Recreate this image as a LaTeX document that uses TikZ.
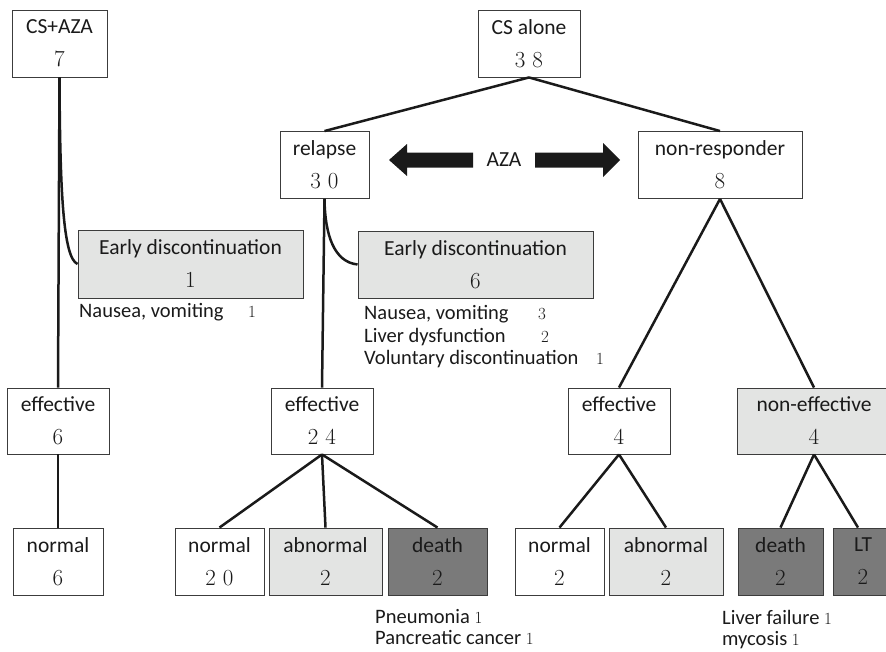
\documentclass[tikz,border=0pt]{standalone}
\usepackage{fontspec}
\newfontfamily\lblfont{Carlito}
\definecolor{lightfill}{HTML}{E3E4E3}
\definecolor{darkfill}{HTML}{7A7A7A}
\definecolor{ink}{HTML}{1A1A1A}
\tikzset{
  box/.style={draw=ink!85, line width=0.9pt, inner sep=0pt, minimum height=67pt,
    align=center, text=ink, font=\lblfont\fontsize{21.5}{33}\selectfont},
  light/.style={box, fill=lightfill},
  dark/.style={box, fill=darkfill},
  link/.style={line width=2.5pt, draw=ink},
  note/.style={anchor=base west, inner sep=0pt, text=ink, font=\lblfont\fontsize{20.5}{24}\selectfont},
  blockarrow/.style={fill=ink, draw=none},
}
\newcommand\num[1]{{\rmfamily\fontsize{23}{23}\selectfont #1}}
\newcommand\snum[1]{{\rmfamily\fontsize{17}{17}\selectfont #1}}
\begin{document}
\begin{tikzpicture}[x=1pt,y=-1pt]
\useasboundingbox (0,0) rectangle (886,651);
\begin{scope}
\clip (0,0) rectangle (886,651);

% top level
\node[box, minimum width=95pt]  (csaza)   at (59.5,43.5) {CS+AZA\\\num{7}};
\node[box, minimum width=102pt] (csalone) at (529,43.5)  {CS alone\\\num{3 8}};

% second level
\node[box, minimum width=89pt]  (relapse) at (324.5,165) {relapse\\\num{3 0}};
\node[box, minimum width=164pt] (nonresp) at (720,165)   {non-responder\\\num{8}};

% early discontinuation
\node[light, minimum width=225pt, minimum height=68pt] (ed1) at (190.5,264)   {Early discontinuation\\\num{1}};
\node[light, minimum width=235pt] (ed6) at (475.5,264.5) {Early discontinuation\\\num{6}};

% response level
\node[box, minimum width=102pt, minimum height=66pt] (eff6)   at (58,421)  {effective\\\num{6}};
\node[box, minimum width=102pt, minimum height=66pt] (eff24)  at (322,421) {effective\\\num{2 4}};
\node[box, minimum width=102pt, minimum height=66pt] (eff4)   at (619,421) {effective\\\num{4}};
\node[light, minimum width=154pt, minimum height=66pt] (noneff) at (814,421) {non-effective\\\num{4}};

% outcomes
\node[box, minimum width=90pt]   (normal6)  at (58,561.5)    {normal\\\num{6}};
\node[box, minimum width=89pt]   (normal20) at (219.5,561.5) {normal\\\num{2 0}};
\node[light, minimum width=113pt] (abnA)    at (325.5,561.5) {abnormal\\\num{2}};
\node[dark, minimum width=99pt]  (deathA)   at (437.5,561.5) {death\\\num{2}};
\node[box, minimum width=89pt]   (normal2)  at (559.5,561.5) {normal\\\num{2}};
\node[light, minimum width=114pt] (abnB)    at (666,561.5)   {abnormal\\\num{2}};
\node[dark, minimum width=85pt]  (deathB)   at (780.5,561.5) {death\\\num{2}};
\node[dark, minimum width=60pt]  (lt)       at (863,561.5)   {LT\\\num{2}};
\end{scope}

% AZA block arrows
\node[inner sep=0pt, text=ink, font=\lblfont\fontsize{21.5}{24}\selectfont] (aza) at (504,160) {AZA};
\fill[blockarrow] (473,152.5) -- (407,152.5) -- (407,144) -- (389,160) -- (407,176)
  -- (407,167.5) -- (473,167.5) -- cycle;
\fill[blockarrow] (535,152.5) -- (603,152.5) -- (603,143) -- (620,160) -- (603,177)
  -- (603,167.5) -- (535,167.5) -- cycle;

% connectors
\draw[link] (csalone.south) -- (relapse.north);
\draw[link] (csalone.south) -- (nonresp.north);
\draw[link] (csaza.south) -- (eff6.north);
\draw[link] (csaza.south) .. controls (60,190) and (63,258) .. (ed1.west);
\draw[link] (relapse.south) -- (eff24.north);
\draw[link] (relapse.south) .. controls (325,235) and (334,262) .. (ed6.west);
\draw[link] (nonresp.south) -- (eff4.north);
\draw[link] (nonresp.south) -- (noneff.north);
\draw[link] (eff6.south) -- (normal6.north);
\draw[link] (eff24.south) -- (normal20.north);
\draw[link] (eff24.south) -- (abnA.north);
\draw[link] (eff24.south) -- (deathA.north);
\draw[link] (eff4.south) -- (normal2.north);
\draw[link] (eff4.south) -- (abnB.north);
\draw[link] (noneff.south) -- (deathB.north);
\draw[link] (noneff.south) -- ([xshift=-5pt]lt.north);

% reasons
\node[note] (r1)  at (79,317)  {Nausea, vomiting};
\node[note] (r1n) at (248,317) {\snum{1}};
\node[note] (r2)  at (364,319) {Nausea, vomiting};
\node[note] (r2n) at (538,319) {\snum{3}};
\node[note] (r3)  at (364,342) {Liver dysfunction};
\node[note] (r3n) at (541,342) {\snum{2}};
\node[note] (r4)  at (364,364) {Voluntary discontinuation};
\node[note] (r4n) at (596,364) {\snum{1}};
\node[note] (c1)  at (375,623) {Pneumonia \snum{1}};
\node[note] (c2)  at (375,644) {Pancreatic cancer \snum{1}};
\node[note] (c3)  at (722,624) {Liver failure \snum{1}};
\node[note] (c4)  at (722,645) {mycosis \snum{1}};
\end{tikzpicture}
\end{document}
